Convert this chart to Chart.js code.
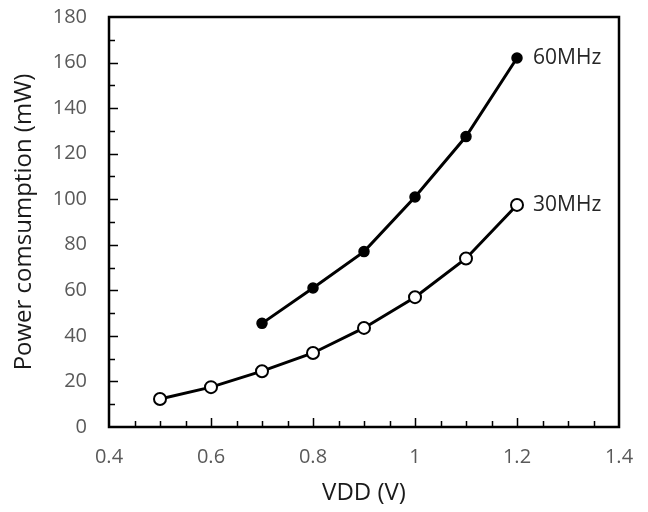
<!DOCTYPE html>
<html lang="en">
<head>
    <meta charset="UTF-8">
    <title>Power consumption vs VDD</title>
    <style>
        body {
            margin: 0;
            background-color: #ffffff;
        }
        #wrap {
            width: 648px;
            height: 512px;
        }
    </style>
    <script src="https://cdn.jsdelivr.net/npm/chart.js"></script>
</head>
<body>
    <div id="wrap"><canvas id="powerChart" width="648" height="512"></canvas></div>

    <script>
        // data
        const vdd30 = [0.5, 0.6, 0.7, 0.8, 0.9, 1.0, 1.1, 1.2];
        const power30 = [12.3, 17.5, 24.5, 32.5, 43.5, 57, 74, 97.5];
        const vdd60 = [0.7, 0.8, 0.9, 1.0, 1.1, 1.2];
        const power60 = [45.5, 61, 77, 101, 127.5, 162];
        const seriesNames = ['30MHz', '60MHz'];

        const toPoints = (xs, ys) => xs.map((x, i) => ({ x: x, y: ys[i] }));

        // frame, inward ticks and end labels
        const framePlugin = {
            id: 'frame',
            afterDatasetsDraw(chart) {
                const ctx = chart.ctx;
                const a = chart.chartArea;
                const xs = chart.scales.x;
                const ys = chart.scales.y;
                ctx.save();
                ctx.strokeStyle = '#000';
                ctx.lineWidth = 1.5;
                ctx.beginPath();
                for (let i = 1; i < 20; i++) {
                    const v = 0.4 + i * 0.05;
                    const px = Math.round(xs.getPixelForValue(v)) + 0.5;
                    const len = (i % 4 === 0) ? 9 : 6;
                    ctx.moveTo(px, a.bottom);
                    ctx.lineTo(px, a.bottom - len);
                }
                for (let j = 1; j < 18; j++) {
                    const py = Math.round(ys.getPixelForValue(j * 10)) + 0.5;
                    const len = (j % 2 === 0) ? 9 : 6;
                    ctx.moveTo(a.left, py);
                    ctx.lineTo(a.left + len, py);
                }
                ctx.stroke();
                ctx.lineWidth = 2.5;
                ctx.strokeRect(a.left, a.top, a.right - a.left, a.bottom - a.top);

                ctx.fillStyle = '#262626';
                ctx.font = '21px "Open Sans", sans-serif';
                ctx.textBaseline = 'middle';
                ctx.textAlign = 'left';
                chart.data.datasets.forEach((ds, k) => {
                    const meta = chart.getDatasetMeta(k);
                    const last = meta.data[meta.data.length - 1];
                    ctx.fillText(ds.label, last.x + 16, last.y);
                });
                ctx.restore();
            }
        };

        new Chart(document.getElementById('powerChart').getContext('2d'), {
            type: 'scatter',
            data: {
                datasets: [{
                    label: seriesNames[1],
                    data: toPoints(vdd60, power60),
                    showLine: true,
                    borderColor: '#000',
                    borderWidth: 3,
                    pointRadius: 5,
                    pointBackgroundColor: '#000',
                    pointBorderColor: '#000',
                    pointBorderWidth: 1.5
                }, {
                    label: seriesNames[0],
                    data: toPoints(vdd30, power30),
                    showLine: true,
                    borderColor: '#000',
                    borderWidth: 3,
                    pointRadius: 6,
                    pointBackgroundColor: '#fff',
                    pointBorderColor: '#000',
                    pointBorderWidth: 2
                }]
            },
            options: {
                responsive: false,
                animation: false,
                layout: { padding: { top: 17, right: 29, left: 0, bottom: 0 } },
                plugins: {
                    legend: { display: false },
                    tooltip: { enabled: false }
                },
                scales: {
                    x: {
                        type: 'linear',
                        min: 0.4,
                        max: 1.4,
                        ticks: {
                            stepSize: 0.2,
                            color: '#595959',
                            font: { family: 'Open Sans', size: 20 },
                            padding: 18,
                            callback: v => String(+v.toFixed(1))
                        },
                        grid: { display: false, drawTicks: false },
                        border: { display: false },
                        title: {
                            display: true,
                            text: 'VDD (V)',
                            color: '#1a1a1a',
                            font: { family: 'Open Sans', size: 24 },
                            padding: { top: 2, bottom: 4 }
                        },
                        afterFit(scale) {
                            scale.height = 85;
                            scale.paddingLeft = 0;
                            scale.paddingRight = 0;
                        }
                    },
                    y: {
                        min: 0,
                        max: 180,
                        ticks: {
                            stepSize: 20,
                            color: '#595959',
                            font: { family: 'Open Sans', size: 20 },
                            padding: 22
                        },
                        grid: { display: false, drawTicks: false },
                        border: { display: false },
                        title: {
                            display: true,
                            text: 'Power comsumption (mW)',
                            color: '#1a1a1a',
                            font: { family: 'Open Sans', size: 24 },
                            padding: { top: 10, bottom: 4 }
                        },
                        afterFit(scale) {
                            scale.width = 109;
                            scale.paddingTop = 0;
                            scale.paddingBottom = 0;
                        }
                    }
                }
            },
            plugins: [framePlugin]
        });
    </script>
</body>
</html>
